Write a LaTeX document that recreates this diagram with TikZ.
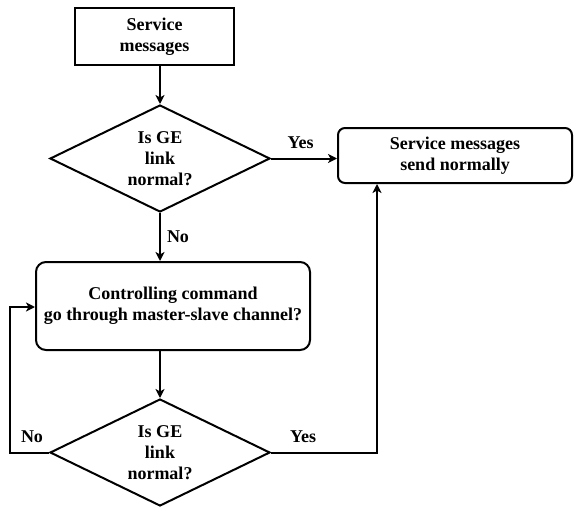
\documentclass[tikz,border=0pt]{standalone}
\usepackage{fontspec}
\setmainfont{Liberation Serif}
\usetikzlibrary{shapes.geometric,arrows.meta}
\begin{document}
\begin{tikzpicture}[x=1pt,y=-1pt,
  every node/.style={font=\fontsize{18}{21}\selectfont\bfseries, align=center},
  box/.style={draw, line width=2pt, inner sep=0pt},
  rbox/.style={box, rounded corners=7pt},
  decision/.style={draw, line width=2pt, diamond, inner sep=0pt, aspect=2,
    minimum width=220pt, minimum height=107pt},
  flow/.style={line width=2pt, -{Stealth[length=9pt,width=9pt,inset=2.5pt]}},
  lbl/.style={inner sep=0pt}]
\useasboundingbox (0,0) rectangle (575,508);

\node[box, minimum width=159pt, minimum height=57pt] (start) at (154.5,36.5) {Service\\messages};
\node[decision] (d1) at (160,158.5) {Is GE\\link\\normal?};
\node[rbox, minimum width=234pt, minimum height=55pt] (ok) at (455,155.5) {Service messages\\send normally};
\node[rbox, rounded corners=10pt, minimum width=274pt, minimum height=88pt] (ctrl) at (173,306) {Controlling command\\go through master-slave channel?};
\node[decision] (d2) at (160,452.5) {Is GE\\link\\normal?};

\coordinate (fb1) at (10,452.5);
\coordinate (fb2) at (10,307);
\coordinate (up1) at (377,452.5);

\draw[flow] (start.south -| d1.north) -- (d1.north);
\draw[flow] (d1.east) -- (ok.west |- d1.east) node[lbl, pos=0.45, above=9pt] {Yes};
\draw[flow] (d1.south) -- (d1.south |- ctrl.north) node[lbl, midway, right=6pt] {No};
\draw[flow] (ctrl.south -| d2.north) -- (d2.north);
\draw[flow] (d2.east) -- (up1) -- (up1 |- ok.south);
\draw[flow] (d2.west) -- (fb1) -- (fb2) -- (ctrl.west |- fb2);
\node[lbl] (yes2) at (303,437) {Yes};
\node[lbl] (no2) at (32,437) {No};
\end{tikzpicture}
\end{document}
